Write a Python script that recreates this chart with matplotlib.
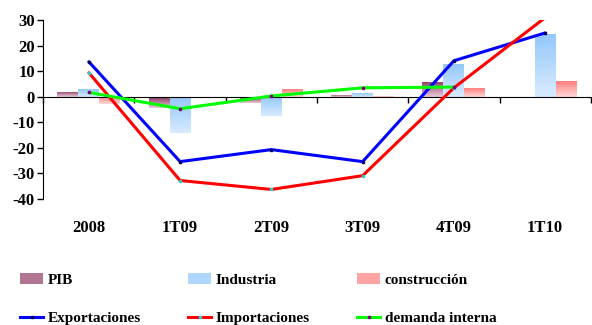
import numpy as np
import matplotlib.pyplot as plt
from matplotlib.colors import LinearSegmentedColormap
from matplotlib.patches import Patch
from matplotlib.lines import Line2D
import matplotlib.transforms as mtransforms

periods = ['2008', '1T09', '2T09', '3T09', '4T09', '1T10']

pib = [2.0, -4.3, -2.3, 0.8, 5.9, np.nan]
industria = [3.1, -14.0, -7.7, 1.5, 12.9, 24.6]
construccion = [-3.0, -0.4, 3.0, 0.4, 3.5, 6.0]

exportaciones = [13.7, -25.4, -20.7, -25.4, 14.1, 25.0]
importaciones = [9.4, -32.8, -36.3, -30.9, 3.5, 31.0]
demanda_interna = [1.7, -4.7, 0.3, 3.5, 3.8, np.nan]

plt.rcParams['font.family'] = ['Liberation Serif', 'DejaVu Serif']
plt.rcParams['font.weight'] = 'bold'
plt.rcParams['axes.unicode_minus'] = False

fig = plt.figure(figsize=(5.92, 3.25), dpi=100)
ax = fig.add_axes([0.073, 0.388, 0.925, 0.55])

x = np.arange(len(periods))
w = 0.23

bar_sets = [
    ('PIB', pib, -w, '#8B3A62', '#EBCBDB'),
    ('Industria', industria, 0.0, '#94C8FA', '#D8EBFF'),
    ('construcción', construccion, w, '#FF7F7F', '#FFD8D8'),
]

grad = np.linspace(0, 1, 64).reshape(-1, 1)
handles = []
for name, vals, off, c_top, c_bot in bar_sets:
    cmap = LinearSegmentedColormap.from_list(name, [c_top, c_bot])
    bars = ax.bar(x + off, vals, w, color='none', edgecolor='none', zorder=1)
    for b in bars:
        h = b.get_height()
        if np.isnan(h) or h == 0:
            continue
        x0 = b.get_x()
        y0, y1 = sorted([b.get_y(), b.get_y() + h])
        im = ax.imshow(grad, cmap=cmap, aspect='auto', origin='upper',
                       extent=(x0, x0 + w, y0, y1), zorder=1)
        im.set_clip_path(b)
    handles.append(Patch(facecolor=cmap(0.4), edgecolor='none', label=name))

line_sets = [
    ('Exportaciones', exportaciones, '#0000FF', '#000066'),
    ('Importaciones', importaciones, '#FF0000', '#33CCCC'),
    ('demanda interna', demanda_interna, '#00FF00', '#800080'),
]
for name, vals, c, mc in line_sets:
    ax.plot(x, vals, color=c, lw=2.2, marker='s', ms=1.5, mfc=mc, mec=mc,
            zorder=3, solid_capstyle='round')
    handles.append(Line2D([0], [0], color=c, lw=2.2, marker='s', ms=1.5,
                          mfc=mc, mec=mc, label=name))

ax.set_xlim(-0.5, len(periods) - 0.5)
ax.set_ylim(-40, 30)
ax.set_yticks(range(-40, 31, 10))
ax.tick_params(axis='y', labelsize=12, length=4, width=1, pad=2)

ax.spines['top'].set_visible(False)
ax.spines['right'].set_visible(False)
ax.spines['bottom'].set_position(('data', 0))
ax.set_xticks(np.arange(len(periods) + 1) - 0.5)
ax.set_xticklabels([])
ax.tick_params(axis='x', length=4, width=1, direction='out')

trans = mtransforms.blended_transform_factory(ax.transData, ax.transAxes)
for xi, lab in zip(x, periods):
    ax.text(xi, -0.16, lab, transform=trans, ha='center', va='center',
            fontsize=12, fontweight='bold')

order = [0, 3, 1, 4, 2, 5]
fig.legend([handles[i] for i in order], [handles[i].get_label() for i in order],
           ncol=3, loc='lower left', bbox_to_anchor=(0.011, -0.042),
           frameon=False, handlelength=1.5, handletextpad=0.3,
           columnspacing=3.1, labelspacing=1.6,
           prop={'weight': 'bold', 'size': 11})

fig.savefig('out.png', dpi=100)
